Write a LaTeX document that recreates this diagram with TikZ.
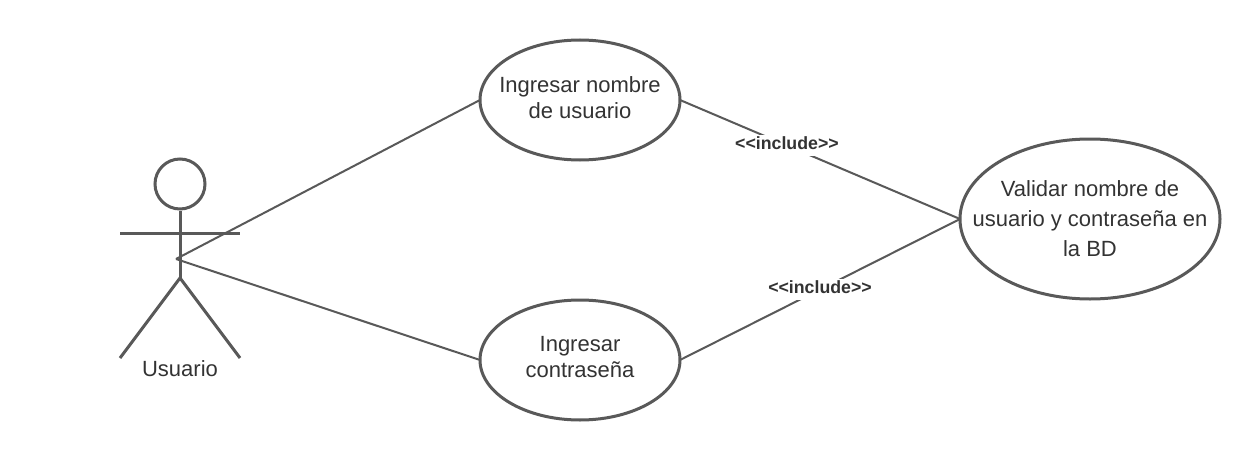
\documentclass[tikz,border=0pt]{standalone}
\usepackage{fontspec}
\setmainfont{Liberation Sans}
\usetikzlibrary{shapes.geometric}
\definecolor{ln}{HTML}{595959}
\definecolor{tx}{HTML}{333333}
\tikzset{
  x=0.75pt,y=-0.75pt,
  usecase/.style={draw=ln,line width=2.25pt,ellipse,fill=white,inner sep=-30pt,outer sep=0pt,minimum width=150pt,minimum height=90pt,align=center,text=tx,font=\fontsize{16.5}{19.5}\selectfont},
  usecasewide/.style={usecase,minimum width=195pt,minimum height=120pt,font=\fontsize{16.5}{22.5}\selectfont},
  conn/.style={draw=ln,line width=1.5pt},
  actorline/.style={draw=ln,line width=2.25pt},
  lbl/.style={fill=white,inner xsep=1pt,inner ysep=0pt,text height=11pt,text depth=4.5pt,text=tx,font=\bfseries\fontsize{13.3}{15}\selectfont}
}
\begin{document}
\begin{tikzpicture}
\useasboundingbox (0,0) rectangle (1260,460);
\fill[white] (0,0) rectangle (1260,460);
\coordinate (hip) at (180,278);
\coordinate (touch) at (176,259);
\node[usecase] (a) at (580,100) {Ingresar nombre\\de usuario\\[-16.5pt]};
\node[usecase] (b) at (580,360) {Ingresar\\contraseña\\[-14.5pt]};
\node[usecasewide] (c) at (1090,219) {Validar nombre de\\usuario y contraseña en\\la BD};
\draw[conn] (touch) -- (a.west);
\draw[conn] (touch) -- (b.west);
\draw[conn] (a.east) -- node[lbl,pos=0.382] (l1) {<{}<include>{}>} (c.west);
\draw[conn] (b.east) -- node[lbl,pos=0.5] (l2) {<{}<include>{}>} (c.west);
\node[draw=ln,line width=2.25pt,circle,minimum size=37.5pt,inner sep=0pt] (head) at (180,184) {};
\coordinate (armL) at (120,233);
\coordinate (armR) at (240,233);
\coordinate (footL) at (120,358);
\coordinate (footR) at (240,358);
\draw[actorline] (head.south) -- (hip);
\draw[actorline] (armL) -- (armR);
\draw[actorline] (footL) -- (hip) -- (footR);
\node[text=tx,font=\fontsize{16.5}{18}\selectfont] (u) at (180,369) {Usuario};
\end{tikzpicture}
\end{document}
